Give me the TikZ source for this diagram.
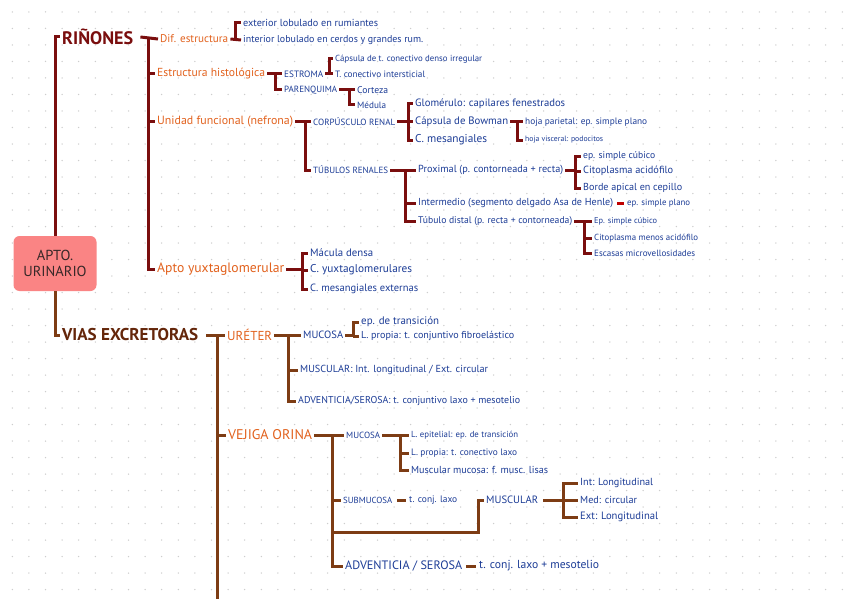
\documentclass[tikz,border=0pt]{standalone}
\usepackage{fontspec}
\setmainfont{PT Sans}
\usetikzlibrary{calc}
\newcommand\fsz[1]{\fontsize{#1}{#1}\selectfont}
\newcommand\wtext[2]{\resizebox{#1pt}{!}{#2}}
\definecolor{maroon}{RGB}{122,14,14}
\definecolor{brn}{RGB}{125,60,20}
\definecolor{dbrn}{RGB}{100,38,10}
\definecolor{orng}{RGB}{226,98,30}
\definecolor{bluet}{RGB}{28,60,150}
\definecolor{boxfill}{RGB}{250,132,132}
\definecolor{boxtext}{RGB}{55,40,40}
\definecolor{dotc}{RGB}{205,205,205}
\tikzset{
  txt/.style={inner xsep=2pt, inner ysep=1pt, anchor=west, font=\fsz{10}, text=bluet},
  orn/.style={txt, text=orng},
  rline/.style={draw=maroon, line width=3pt, line join=miter},
  bline/.style={draw=brn, line width=3pt, line join=miter},
}
\begin{document}
\begin{tikzpicture}[x=1pt,y=-1pt]
\useasboundingbox (0,0) rectangle (848,599);
\fill[white] (0,0) rectangle (848,599);
\foreach \i in {0,...,50}{\foreach \j in {0,...,35}{\fill[dotc] (12.3+16.6*\i,12+16.5*\j) circle (0.75);}}

% main box
\node[fill=boxfill, rounded corners=6pt, minimum width=83pt, minimum height=55pt, align=center, text=boxtext, font=\fsz{14.5}, inner sep=0pt] (box) at (55,263.5) {APTO.\\[2pt]URINARIO};

% ---------------- RIÑONES ----------------
\node[txt, text=maroon, font=\bfseries\fsz{18}] (rin) at (60,37) {\wtext{71}{RIÑONES}};
\draw[rline] (box.north) |- (rin.west);

\node[orn] (dif) at (158,39) {\wtext{68}{Dif. estructura}};
\node[orn] (est) at (155,74) {\wtext{108}{Estructura histológica}};
\node[orn] (uni) at (155,122) {\wtext{136}{Unidad funcional (nefrona)}};
\node[orn] (apto) at (155,269) {\wtext{127}{Apto yuxtaglomerular}};
\coordinate (jr) at (148,39);
\draw[rline] ($(rin.east)+(5,0)$) -- (dif.west);
\draw[rline] (jr) |- (est.west);
\draw[rline] (jr) |- (uni.west);
\draw[rline] (jr) |- (apto.west);

% Dif. estructura
\node[txt] (ext) at (241,23) {\wtext{135}{exterior lobulado en rumiantes}};
\node[txt] (intr) at (241,40) {\wtext{180}{interior lobulado en cerdos y grandes rum.}};
\coordinate (jd) at (235,40);
\draw[rline] (dif.east) -- (intr.west);
\draw[rline] (jd) |- (ext.west);

% Estructura histologica
\node[txt] (estr) at (282,74) {\wtext{39}{ESTROMA}};
\node[txt] (par) at (282,90) {\wtext{53}{PARENQUIMA}};
\coordinate (je) at (275,74);
\draw[rline] (est.east) -- (estr.west);
\draw[rline] (je) |- (par.west);

\node[txt] (capd) at (333,59) {\wtext{147}{Cápsula de t. conectivo denso irregular}};
\node[txt] (tci) at (333,74) {\wtext{90}{T. conectivo intersticial}};
\coordinate (jes) at (329,74);
\draw[rline] (estr.east) -- (tci.west);
\draw[rline] (jes) |- (capd.west);

\node[txt] (cort) at (355,90) {\wtext{31}{Corteza}};
\node[txt] (med) at (355,105) {\wtext{29}{Médula}};
\coordinate (jp) at (349,90);
\draw[rline] (par.east) -- (cort.west);
\draw[rline] (jp) |- (med.west);

% Unidad funcional
\node[txt] (corp) at (311,122) {\wtext{82}{CORPÚSCULO RENAL}};
\node[txt] (tub) at (311,170) {\wtext{75}{TÚBULOS RENALES}};
\coordinate (ju) at (305,122);
\draw[rline] (uni.east) -- (corp.west);
\draw[rline] (ju) |- (tub.west);

\node[txt] (glo) at (413,104) {\wtext{150}{Glomérulo: capilares fenestrados}};
\node[txt] (bow) at (413,122) {\wtext{93}{Cápsula de Bowman}};
\node[txt] (cmes) at (413,140) {\wtext{72}{C. mesangiales}};
\coordinate (jc) at (408,122);
\draw[rline] (corp.east) -- (bow.west);
\draw[rline] (jc) |- (glo.west);
\draw[rline] (jc) |- (cmes.west);

\node[txt] (hpar) at (523,122) {\wtext{122}{hoja parietal: ep. simple plano}};
\node[txt] (hvis) at (523,140) {\wtext{78}{hoja visceral: podocitos}};
\coordinate (jb) at (517,122);
\draw[rline] (bow.east) -- (hpar.west);
\draw[rline] (jb) |- (hvis.west);

\node[txt] (prox) at (416,170) {\wtext{145}{Proximal (p. contorneada + recta)}};
\node[txt] (inte) at (416,203) {\wtext{195}{Intermedio (segmento delgado Asa de Henle)}};
\node[txt] (dist) at (416,221) {\wtext{154}{Túbulo distal (p. recta + contorneada)}};
\coordinate (jt) at (405,170);
\draw[rline] (tub.east) -- (prox.west);
\draw[rline] (jt) |- (inte.west);
\draw[rline] (jt) |- (dist.west);

\node[txt] (p1) at (581,156) {\wtext{72}{ep. simple cúbico}};
\node[txt] (p2) at (581,171) {\wtext{90}{Citoplasma acidófilo}};
\node[txt] (p3) at (581,188) {\wtext{99}{Borde apical en cepillo}};
\coordinate (jpx) at (575,171);
\draw[rline] (jpx) -- (p2.west);
\draw[rline] (prox.east) -| (jpx);
\draw[rline] (jpx) |- (p1.west);
\draw[rline] (jpx) |- (p3.west);

\node[txt, inner xsep=3pt] (esp) at (624,203) {\wtext{63}{ep. simple plano}};
\draw[draw=red!75!black, line width=3pt] ([xshift=2pt]inte.east) -- (esp.west);

\node[txt] (d1) at (592,221) {\wtext{63}{Ep. simple cúbico}};
\node[txt] (d2) at (592,238) {\wtext{104}{Citoplasma menos acidófilo}};
\node[txt] (d3) at (592,253) {\wtext{101}{Escasas microvellosidades}};
\coordinate (jdi) at (584,221);
\draw[rline] (dist.east) -- (d1.west);
\draw[rline] (jdi) |- (d2.west);
\draw[rline] (jdi) |- (d3.west);

% Apto yuxtaglomerular
\node[txt] (y1) at (308,253) {\wtext{63}{Mácula densa}};
\node[txt] (y2) at (308,270) {\wtext{102}{C. yuxtaglomerulares}};
\node[txt] (y3) at (308,289) {\wtext{108}{C. mesangiales externas}};
\coordinate (jy) at (302,270);
\draw[rline] (apto.east) -| (jy);
\draw[rline] (jy) -- (y2.west);
\draw[rline] (jy) |- (y1.west);
\draw[rline] (jy) |- (y3.west);

% ---------------- VIAS EXCRETORAS ----------------
\node[txt, text=dbrn, font=\bfseries\fsz{17}] (vias) at (60,335) {\wtext{136}{VIAS EXCRETORAS}};
\draw[bline] (box.south) |- (vias.west);

\node[orn] (ure) at (225,335) {\wtext{45}{URÉTER}};
\node[orn] (vej) at (226,435) {\wtext{84}{VEJIGA ORINA}};
\coordinate (jv) at (217,335);
\coordinate (vend) at (217,600);
\draw[bline] ($(vias.east)+(6,0)$) -- (ure.west);
\draw[bline] (jv) -- (vend);
\draw[bline] (jv) |- (vej.west);

% Ureter
\node[txt] (muc1) at (301,335) {\wtext{40}{MUCOSA}};
\node[txt] (mus1) at (298,370) {\wtext{188}{MUSCULAR: Int. longitudinal / Ext. circular}};
\node[txt] (adv1) at (296,401) {\wtext{222}{ADVENTICIA/SEROSA: t. conjuntivo laxo + mesotelio}};
\coordinate (ju1) at (288,335);
\draw[bline] (ure.east) -- (muc1.west);
\draw[bline] (ju1) |- (mus1.west);
\draw[bline] (ju1) |- (adv1.west);

\node[txt] (et1) at (359,322) {\wtext{78}{ep. de transición}};
\node[txt] (lp1) at (359,336) {\wtext{153}{L. propia: t. conjuntivo fibroelástico}};
\coordinate (jm1) at (353,336);
\draw[bline] (muc1.east) -| (jm1);
\draw[bline] (jm1) -- (lp1.west);
\draw[bline] (jm1) |- (et1.west);

% Vejiga
\node[txt] (muc2) at (344,435) {\wtext{34}{MUCOSA}};
\node[txt] (sub) at (341,500) {\wtext{49}{SUBMUCOSA}};
\node[txt] (mus2) at (484,500) {\wtext{52}{MUSCULAR}};
\node[txt] (adv2) at (343,566) {\wtext{117}{ADVENTICIA / SEROSA}};
\coordinate (jve) at (332,435);
\coordinate (mj) at (332,532);
\coordinate (mk) at (478,532);
\draw[bline] (vej.east) -- (muc2.west);
\draw[bline] (jve) |- (sub.west);
\draw[bline] (jve) |- (adv2.west);
\draw[bline] (mj) -- (mk) |- (mus2.west);

\node[txt] (v1) at (409,435) {\wtext{107}{L. epitelial: ep. de transición}};
\node[txt] (v2) at (409,453) {\wtext{106}{L. propia: t. conectivo laxo}};
\node[txt] (v3) at (409,470) {\wtext{137}{Muscular mucosa: f. musc. lisas}};
\coordinate (jm2) at (400,435);
\draw[bline] (muc2.east) -- (v1.west);
\draw[bline] (jm2) |- (v2.west);
\draw[bline] (jm2) |- (v3.west);

\node[txt, inner xsep=3pt] (sub1) at (406,500) {\wtext{48}{t. conj. laxo}};
\draw[bline] ([xshift=3pt]sub.east) -- (sub1.west);

\node[txt] (m1) at (578,483) {\wtext{73}{Int: Longitudinal}};
\node[txt] (m2) at (578,500) {\wtext{57}{Med: circular}};
\node[txt] (m3) at (578,517) {\wtext{78}{Ext: Longitudinal}};
\coordinate (jmu) at (563,500);
\draw[bline] ([xshift=3pt]mus2.east) -- (m2.west);
\draw[bline] (jmu) |- (m1.west);
\draw[bline] (jmu) |- (m3.west);

\node[txt, inner xsep=3pt] (adv3) at (476,566) {\wtext{120}{t. conj. laxo + mesotelio}};
\draw[bline] ([xshift=2pt]adv2.east) -- (adv3.west);
\end{tikzpicture}
\end{document}
